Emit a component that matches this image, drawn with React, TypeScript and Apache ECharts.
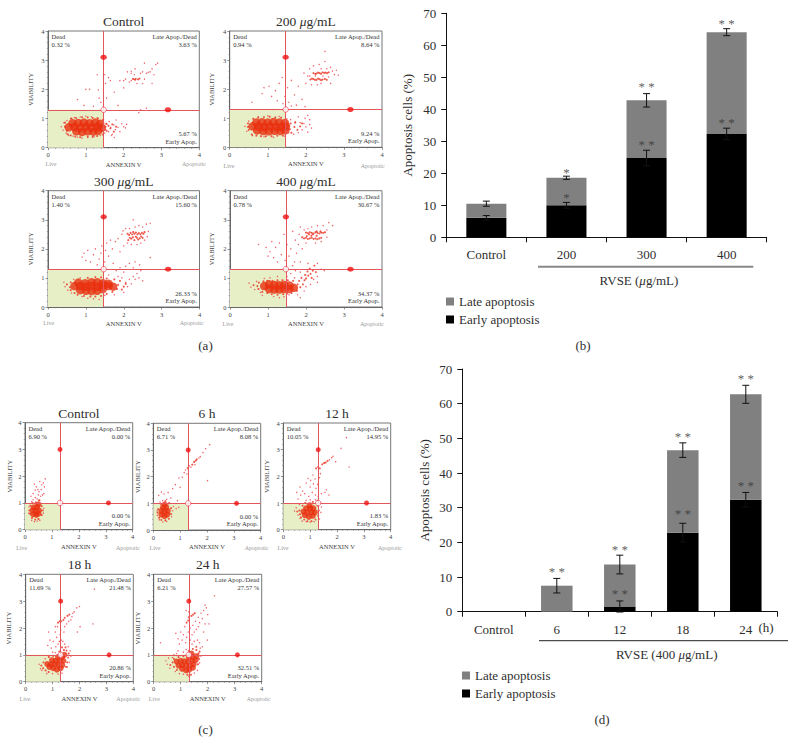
import React, { useEffect, useRef } from "react";
import * as echarts from "echarts";

const serif = "Liberation Serif";

// ---------- bar data ----------
const dosesB = ["Control", "200", "300", "400"];
const earlyB = [6.1, 10, 24.8, 32.3];
const lateB = [4.4, 8.6, 18, 31.8];
const errEarlyB = [0.7, 0.9, 2.4, 1.8];
const errTotalB = [0.8, 0.5, 2.1, 1.1];
const starsB: [number, number, string][] = [
  [1, 20.5, "*"], [1, 12.5, "*"], [2, 47.3, "* *"], [2, 29.2, "* *"], [3, 67, "* *"], [3, 36, "* *"],
];

const timesD = ["Control", "6", "12", "18", "24"];
const earlyD = [0, 0, 1.5, 22.8, 32.3];
const lateD = [0, 7.5, 12.1, 23.8, 30.4];
const errEarlyD = [0, 0, 1.6, 2.7, 2.1];
const errTotalD = [0, 2.1, 2.7, 2.1, 2.6];
const starsD: [number, number, string][] = [
  [1, 11.8, "* *"], [2, 18, "* *"], [2, 5.5, "* *"], [3, 50.7, "* *"], [3, 28.5, "* *"], [4, 67.4, "* *"], [4, 36.5, "* *"],
];

// ---------- flow cytometry clouds ----------
type P = number[];
const a1Dense: P[] = [[.75,.56],[.9,.54],[1.05,.56],[1.2,.55],[1.33,.58],[.55,.7],[.7,.71],[.85,.69],[1,.72],[1.15,.7],[1.3,.72],[1.42,.68],[.65,.84],[.8,.85],[.95,.86],[1.1,.84],[1.25,.86],[1.38,.82]];
const a1Mid: P[] = [[.45,.72],[.5,.58],[.45,.86],[.52,.46],[.6,.42],[.62,1],[.72,.38],[.74,1.02],[.85,.36],[.9,1.05],[1.05,.38],[1.05,1.04],[1.18,.37],[1.18,1.02],[1.3,.4],[1.32,1],[1.45,.45],[1.46,.96],[1.52,.72],[1.54,.82],[1.55,.58],[1.6,.75],[1.65,.66],[1.7,.8],[1.74,.55],[1.8,.72],[2.25,2.36],[2.32,2.36],[2.38,2.34],[2.42,2.37],[2.3,2.33]];
const a1Sparse: P[] = [[.35,.72],[.4,.6],[.42,.85],[.48,.5],[.5,.93],[.55,.42],[.6,1],[.66,.4],[.7,1.03],[.78,.36],[.85,1.05],[.9,.33],[1,1.08],[1.05,.35],[1.15,1.06],[1.22,.38],[1.3,1.02],[1.38,.42],[1.45,.95],[1.5,.5],[1.52,.62],[1.56,.8],[1.6,.55],[1.62,.9],[1.66,.7],[1.7,.46],[1.74,.78],[1.78,.62],[1.8,.95],[1.85,.7],[1.9,.55],[1.95,.82],[2,.72],[2.05,.68],[2.08,.8],[1.68,.42],[1.75,.35],[.78,1.65],[.95,1.45],[1,2],[1.1,2],[1.2,1.42],[1.3,2.5],[1.33,1.98],[1.35,1.7],[1.4,1.55],[1.5,2.5],[1.52,2.2],[1.55,1.7],[1.6,2.4],[1.65,2.3],[1.75,1.9],[1.85,1.45],[1.9,2.3],[2,2.05],[2.4,1.2],[2.6,1.35],[2.45,1.3],[2,2.3],[2.05,2.35],[2.1,2.6],[2.15,2.25],[2.2,2.55],[2.2,2.3],[2.25,2.35],[2.28,2.5],[2.3,2.7],[2.35,2.2],[2.45,2.55],[2.5,2.6],[2.5,2.2],[2.55,2.9],[2.6,2.55],[2.65,2.58],[2.7,2.6],[2.75,2.7],[2.8,2.5],[2.85,2.85],[2.9,2.9],[2.75,2.2],[2.2,2.62],[2.55,2.35]];

const a2Dense: P[] = [[.72,.58],[.88,.56],[1.03,.55],[1.18,.57],[1.33,.56],[1.46,.58],[.6,.72],[.75,.72],[.9,.7],[1.05,.72],[1.2,.71],[1.35,.7],[1.48,.72],[.7,.85],[.85,.86],[1,.85],[1.15,.87],[1.3,.85],[1.45,.84]];
const a2Mid: P[] = [[.48,.7],[.5,.6],[.48,.82],[.58,.44],[.7,.4],[.82,.38],[.95,.38],[1.1,.38],[1.25,.4],[1.4,.4],[.62,.98],[.75,1.02],[.9,1.04],[1.05,1.05],[1.2,1.03],[1.35,1.02],[1.55,.72],[1.58,.62],[1.6,.82],[1.62,.5],[1.7,.7],[1.72,.85],[1.78,.6],[1.85,.72],[1.9,.82],[2.2,2.55],[2.25,2.52],[2.28,2.54],[2.32,2.57],[2.36,2.55],[2.4,2.53],[2.44,2.58],[2.48,2.56],[2.52,2.57],[2.56,2.55],[2.6,2.58],[2.12,2.33],[2.16,2.36],[2.2,2.35],[2.24,2.32],[2.28,2.32],[2.32,2.36],[2.36,2.34],[2.4,2.31],[2.44,2.33],[2.5,2.35],[2.55,2.32]];
const a2Sparse: P[] = [[.4,.72],[.45,.55],[.5,.9],[.6,.4],[.62,.98],[.75,1.05],[.9,.36],[1,1.08],[1.15,.34],[1.3,1.06],[1.45,.38],[1.5,.98],[1.55,.5],[1.6,.95],[1.68,.45],[1.72,.88],[1.8,.5],[1.85,.85],[1.9,.6],[1.95,.82],[2,.7],[2.05,.52],[2.1,.78],[2.15,.66],[2.1,.95],[1.98,1],[1.8,1.05],[2.05,1.1],[.58,1.55],[.85,1.85],[.9,2.05],[1.03,2.1],[1.1,1.75],[1.2,1.95],[1.25,1.6],[1.3,2.2],[1.38,2.4],[1.4,1.5],[1.45,1.75],[1.52,2.05],[1.55,1.55],[1.62,2.3],[1.7,1.8],[1.75,1.45],[1.8,2.1],[1.9,1.65],[1.95,2.55],[2,2.2],[1.98,1.4],[2.05,2.45],[2.1,2.7],[2.15,2.15],[2.2,2.8],[2.3,2.15],[2.35,2.85],[2.4,2.7],[2.45,2.45],[2.5,3.3],[2.5,2.95],[2.55,2.7],[2.6,2.42],[2.65,2.75],[2.7,2.62],[2.75,2.5],[2.8,2.65],[2.85,2.48],[2.1,2.45],[2.25,2.45],[2.4,2.2],[2.65,2.2],[1.15,1.3],[1.62,1.42]];

const a3Dense: P[] = [[.85,.58],[1,.56],[1.15,.55],[1.3,.56],[1.45,.62],[.7,.72],[.85,.72],[1,.7],[1.15,.72],[1.3,.7],[1.45,.74],[1.6,.72],[1.72,.7],[.8,.84],[.98,.82],[1.15,.85],[1.3,.85],[1.45,.82],[1.6,.8]];
const a3Mid: P[] = [[.5,.78],[.58,.68],[.6,.85],[.6,.58],[.7,.48],[.78,.42],[.95,.38],[1.12,.36],[1.25,.36],[1.4,.38],[1.55,.45],[1.7,.52],[1.82,.62],[1.85,.76],[1.95,.6],[2,.7],[2.05,.8],[1.05,1],[1.25,1.03],[1.4,1.02],[1.55,.98],[1.75,.95],[1.9,.9],[2.1,2.52],[2.14,2.48],[2.18,2.55],[2.22,2.5],[2.25,2.58],[2.28,2.52],[2.32,2.56],[2.36,2.5],[2.4,2.54],[2.44,2.5],[2.48,2.55],[2.52,2.52],[2.55,2.58],[2.2,2.35],[2.24,2.4],[2.28,2.3],[2.32,2.42],[2.35,2.38],[2.38,2.32],[2.42,2.36],[2.46,2.42],[2.5,2.38],[2.12,2.3],[2.16,2.38]];
const a3Sparse: P[] = [[.42,.85],[.45,.7],[.52,.58],[.62,.48],[.68,.95],[.85,1],[.9,.36],[1.05,.3],[1.2,.28],[1.35,.26],[1.5,.4],[1.6,1.1],[1.75,.42],[1.85,1.05],[1.95,1],[2,.5],[2.05,.85],[2.1,.7],[2.15,.95],[2.2,.8],[2.25,1.05],[2.3,.95],[2.35,1.15],[2.4,1],[2.45,1.25],[2.5,.9],[2.42,1.45],[2.3,1.55],[2.25,1.35],[2.15,1.5],[2.05,1.4],[2,1.2],[1.9,1.35],[1.8,1.25],[2.7,1.7],[.9,1.72],[.95,1.85],[1,1.6],[1.05,1.95],[1.12,1.55],[1.2,1.8],[1.25,2],[1.3,1.45],[1.35,1.65],[1.42,2.1],[1.4,1.85],[1.5,1.55],[1.52,1.95],[1.55,2.2],[1.6,1.75],[1.65,2.3],[1.7,2],[1.72,1.5],[1.78,2.25],[1.85,2.35],[1.9,1.9],[1.95,2.5],[2,2.1],[2.05,2.7],[2.1,2.2],[2.15,2.7],[2.2,2.15],[2.25,3],[2.3,2.75],[2.35,2.15],[2.4,2.8],[2.45,2.2],[2.5,2.75],[2.55,2.3],[2.6,2.85],[2.65,2.6],[2.7,2.88],[2.62,2.42],[1.98,2.62]];

const a4Dense: P[] = [[.9,.72],[1.03,.62],[1.03,.78],[1.17,.6],[1.17,.76],[1.3,.6],[1.3,.75],[1.43,.62],[1.43,.76],[1.56,.62],[1.56,.74],[1.68,.66]];
const a4Mid: P[] = [[.62,.75],[.72,.72],[.75,.62],[.76,.84],[.85,.52],[.88,.88],[.98,.48],[.98,.9],[1.1,.44],[1.12,.9],[1.25,.42],[1.25,.92],[1.4,.44],[1.38,.92],[1.5,.46],[1.52,.92],[1.62,.48],[1.66,.9],[1.76,.56],[1.78,.78],[1.82,.9],[1.85,.68],[1.88,1],[1.92,.78],[1.96,.92],[1.98,1.1],[2,.98],[2.04,1.22],[2.06,1.08],[2.1,1.32],[2.12,1.14],[2.15,1],[2.18,1.25],[2.22,1.42],[2.26,1.2],[2,2.56],[2.05,2.54],[2.1,2.57],[2.15,2.55],[2.2,2.53],[2.25,2.57],[2.3,2.55],[2.35,2.53],[2.4,2.56],[2.45,2.55],[2.5,2.57],[2.08,2.5],[2.18,2.5],[2.28,2.6],[2.38,2.6],[1.9,2.4],[1.95,2.36],[2,2.38],[2.05,2.34],[2.1,2.36],[2.15,2.38],[2.2,2.34],[2.25,2.36],[2.3,2.33],[2.35,2.36],[2.4,2.38],[2.02,2.44],[2.14,2.45],[2.28,2.45]];
const a4Sparse: P[] = [[.5,.82],[.55,.68],[.65,.6],[.7,.88],[.8,.5],[.85,.4],[.9,.98],[1.05,1],[1.15,.36],[1.25,1.05],[1.3,.32],[1.42,.35],[1.5,1.05],[1.55,.42],[1.6,1.15],[1.7,1],[1.72,1.25],[1.78,.42],[1.85,1.2],[1.85,.32],[1.95,.55],[2,.7],[2.05,1.5],[2.12,.78],[2.2,.95],[2.3,1.5],[2.3,1.05],[2.4,1.3],[2.48,1.25],[2.3,.85],[.75,2.15],[.95,2.05],[1,1.75],[1.05,1.9],[1.1,2.25],[1.15,1.7],[1.2,2.05],[1.25,1.55],[1.3,2.2],[1.35,1.8],[1.42,2.5],[1.45,1.6],[1.5,2.15],[1.55,1.75],[1.6,2],[1.65,2.6],[1.7,1.55],[1.72,2.3],[1.75,1.85],[1.8,2.15],[1.82,2.5],[1.85,2.75],[1.9,2],[1.95,2.65],[2,2.2],[2.05,2.7],[2.15,2.75],[2.25,2.2],[2.3,2.8],[2.4,2.25],[2.45,2.8],[2.55,2.65],[2.6,2.9],[2.7,2.8],[2.55,2.4],[1.85,1.55],[1.65,1.42]];

const c1Dense: P[] = [[.3,.58],[.42,.55],[.5,.6],[.28,.72],[.4,.7],[.52,.72],[.32,.84],[.45,.85],[.5,.95]];
const c1Mid: P[] = [[.16,.72],[.18,.6],[.2,.9],[.26,.44],[.38,.38],[.5,.4],[.62,.55],[.66,.72],[.62,.88],[.52,1.1],[.4,1.02],[.28,1]];
const c1Sparse: P[] = [[.14,.62],[.15,.85],[.25,.35],[.35,.3],[.45,.32],[.55,.35],[.68,.62],[.7,.8],[.25,1.05],[.3,1.12],[.38,1.2],[.45,1.15],[.5,1.3],[.55,1.1],[.3,1.35],[.38,1.48],[.42,1.6],[.48,1.5],[.52,1.42],[.58,1.25],[.6,1.5],[.62,1.68],[.68,1.75],[.72,1.6],[.75,1.9],[.65,1.3],[.22,1.25],[.35,1.7],[.55,1.8],[.7,1.35]];

const c2Dense: P[] = [[.3,.58],[.42,.52],[.52,.58],[.3,.72],[.42,.7],[.54,.72],[.36,.85],[.48,.86],[.42,.95]];
const c2Mid: P[] = [[.16,.65],[.18,.78],[.22,.46],[.3,.38],[.45,.36],[.58,.42],[.66,.6],[.66,.82],[.58,1],[.28,.98],[.45,1.08],[1.45,2.45],[1.52,2.55],[1.58,2.6],[1.62,2.65],[1.28,2.32]];
const c2Sparse: P[] = [[.14,.72],[.15,.55],[.22,.38],[.35,.3],[.5,.32],[.68,.5],[.72,.72],[.75,.88],[.85,.8],[.95,.85],[.9,1.1],[.25,1.05],[.35,1.1],[.2,1.3],[.3,1.42],[.4,1.35],[.55,1.4],[.5,1.15],[.65,1.2],[.72,1.55],[.82,1.7],[.95,1.95],[1,1.6],[1.08,1.98],[1.15,2.15],[1.2,2.25],[1.25,2.1],[1.35,2.4],[1.4,2.35],[1.55,2.45],[1.7,2.7],[1.75,2.75],[1.85,2.9],[1.95,3.05],[2.1,3.2],[2.02,1.85],[.6,1.02]];

const c3Dense: P[] = [[.8,.55],[.95,.48],[1.1,.52],[.75,.68],[.9,.64],[1.05,.66],[1.18,.65],[.85,.8],[1,.8],[1.12,.8],[.98,.92]];
const c3Mid: P[] = [[.52,.68],[.6,.72],[.62,.58],[.66,.46],[.78,.38],[.9,.32],[1.05,.32],[1.2,.38],[1.3,.52],[1.32,.72],[1.28,.9],[.72,.9],[.82,1],[1.1,1.04],[1.28,1.08],[1.22,2.3],[1.3,2.35],[1.36,2.3],[1.45,2.45],[1.52,2.5],[1.58,2.52],[1.65,2.58]];
const c3Sparse: P[] = [[.42,.7],[.48,.82],[.55,.55],[.6,.95],[.62,.42],[.7,.32],[.85,.3],[1,.28],[1.15,.3],[1.35,.4],[1.4,.65],[1.42,.85],[1.38,1],[1.2,1.12],[1,1.12],[.85,1.1],[.95,1.25],[.55,1.15],[.5,1.4],[.62,1.6],[.72,1.45],[.8,1.35],[.85,1.75],[.92,1.92],[1,1.6],[1.02,1.85],[1.08,1.4],[1.12,1.72],[1.18,1.9],[1.2,1.3],[1.22,1.55],[1.28,1.7],[1.3,1.25],[1.35,1.95],[1.38,2.1],[1.42,1.35],[1.55,1.4],[1.6,1.5],[1.7,1.3],[1.1,2.05],[1.72,2.62],[1.8,2.7],[1.85,2.75],[1.95,2.55],[2.15,3.05],[2.35,3.45],[2.45,2.35],[.65,1.3]];

const c4Dense: P[] = [[.88,.55],[1.02,.5],[1.16,.45],[1.3,.5],[.8,.66],[.94,.65],[1.08,.65],[1.22,.62],[1.36,.62],[.98,.8],[1.12,.78],[1.26,.78],[1.4,.78],[1.2,.92],[1.35,.92],[1.44,1]];
const c4Mid: P[] = [[.58,.6],[.65,.5],[.66,.72],[.74,.42],[.86,.92],[1.02,.96],[.85,.36],[1.5,.55],[1.54,.72],[1.58,.9],[1.6,1.05],[1.52,1.16],[1.42,1.18],[1.25,1.12],[1.35,1.28],[1.48,1.28],[1.2,2.2],[1.26,2.25],[1.32,2.25],[1.4,2.3],[1.45,2.38],[1.55,2.45],[1.62,2.5]];
const c4Sparse: P[] = [[.5,.65],[.55,.48],[.6,.42],[.72,.85],[.78,.3],[1,.3],[1.2,.28],[1.35,.32],[1.55,.55],[1.62,.72],[1.68,.95],[1.65,1.15],[1.58,1.3],[1.1,1.08],[1,1.1],[.95,1.25],[1.12,1.3],[1.2,1.4],[.82,1.35],[.9,1.55],[1.02,1.5],[.85,1.85],[1.1,1.85],[1.15,1.65],[1.25,1.5],[1.28,1.75],[1.32,1.55],[1.3,1.92],[1.38,1.5],[1.42,1.85],[1.45,1.4],[1.45,2.05],[1.52,2.15],[1.6,2.25],[1.68,2.3],[1.72,2.42],[1.75,2.55],[1.8,2.6],[1.9,2.75],[2,2.8],[2.02,2.05],[1.92,1.85],[1.1,2.05],[1.18,2.05],[2.55,3.45],[2.5,2.15]];

const c5Dense: P[] = [[1.05,.48],[1.2,.42],[1.32,.45],[1.45,.52],[.92,.6],[1.06,.62],[1.2,.6],[1.34,.6],[1.48,.65],[.85,.75],[1,.78],[1.14,.76],[1.28,.76],[1.42,.78],[1.55,.8],[1.3,.92],[1.45,.92],[1.58,.95],[1.4,1.05]];
const c5Mid: P[] = [[.62,.62],[.7,.72],[.75,.55],[.75,.85],[.86,.44],[.92,.92],[1.1,.94],[1.25,.26],[1.38,.26],[1.64,.65],[1.68,.85],[1.66,1.05],[1.58,1.18],[1.7,1.12],[1.45,1.22],[1.3,1.15],[1.58,1.3],[1.4,2.45],[1.46,2.5],[1.52,2.55],[1.28,2.28],[1.22,2.2],[1.3,2.4]];
const c5Sparse: P[] = [[.45,.78],[.5,.65],[.55,.88],[.6,.5],[.7,.9],[.75,1],[.8,.38],[.95,.3],[1.1,.28],[1.3,.2],[1.5,.32],[1.62,.42],[1.7,.7],[1.75,.95],[1.72,1.25],[1.7,1.45],[1.8,1.3],[1.62,1.55],[1.5,1.5],[1.42,1.4],[1.2,1.2],[1.1,1.1],[.9,1.15],[.85,1.05],[.25,1.45],[.82,1.8],[.9,1.6],[.95,1.4],[1,1.85],[1.05,1.55],[1.1,1.75],[1.15,2.05],[1.18,1.45],[1.22,1.65],[1.28,1.85],[1.35,2],[1.35,1.55],[1.42,1.75],[1.45,2.1],[1.5,1.85],[1.55,2.25],[1.58,1.95],[1.65,2.05],[1.65,2.4],[1.7,2.2],[1.75,2.55],[1.8,2.35],[1.85,1.85],[1.85,2.65],[1.9,2.15],[1.95,2.75],[2,2.5],[2.05,2.15],[1.9,2.85],[1.98,1.55],[2.25,3.2],[1.2,2.65],[1.3,2.6]];

// ---------- panel contents ----------
const panelA = { cross: [1.47, 1.3], handles: [[1.47, 3.1], [3.17, 1.3]] };
const panelC = { cross: [1.3, 1.0], handles: [[1.3, 3.0], [3.1, 1.0]] };

const panels = [
  { title: ["Control"], dead: "0.32 %", late: "3.63 %", early: "5.67 %", live: "90.37 %", dense: a1Dense, mid: a1Mid, sparse: a1Sparse, ...panelA,
    x0: 48, x1: 199.3, y0: 31, y1: 147.7, vGap: 14, liveX: 51, apopX: 194, footY: 163.5, small: false },
  { title: ["200 ", "g/mL"], dead: "0.94 %", late: "8.64 %", early: "9.24 %", live: "81.17 %", dense: a2Dense, mid: a2Mid, sparse: a2Sparse, ...panelA,
    x0: 229.7, x1: 382, y0: 31, y1: 147.3, vGap: 15, liveX: 229, apopX: 372.7, footY: 166, small: false },
  { title: ["300 ", "g/mL"], dead: "1.40 %", late: "15.60 %", early: "26.33 %", live: "56.67 %", dense: a3Dense, mid: a3Mid, sparse: a3Sparse, ...panelA,
    x0: 48, x1: 199.5, y0: 190.7, y1: 307, vGap: 14, liveX: 48.7, apopX: 191.7, footY: 323, small: false },
  { title: ["400 ", "g/mL"], dead: "0.78 %", late: "30.67 %", early: "34.37 %", live: "34.19 %", dense: a4Dense, mid: a4Mid, sparse: a4Sparse, ...panelA,
    x0: 230, x1: 382, y0: 190.7, y1: 307, vGap: 15, liveX: 228, apopX: 372, footY: 324, small: false },
  { title: ["Control"], dead: "6.90 %", late: "0.00 %", early: "0.00 %", live: "93.10 %", dense: c1Dense, mid: c1Mid, sparse: c1Sparse, ...panelC,
    x0: 25, x1: 132.7, y0: 422.7, y1: 529.7, vGap: 12, liveX: 21.7, apopX: 128, footY: 547.5, small: true },
  { title: ["6 h"], dead: "6.71 %", late: "8.08 %", early: "0.00 %", live: "85.21 %", dense: c2Dense, mid: c2Mid, sparse: c2Sparse, ...panelC,
    x0: 153.3, x1: 260.7, y0: 423.3, y1: 530, vGap: 12, liveX: 155, apopX: 256.7, footY: 547.5, small: true },
  { title: ["12 h"], dead: "10.05 %", late: "14.95 %", early: "1.83 %", live: "73.17 %", dense: c3Dense, mid: c3Mid, sparse: c3Sparse, ...panelC,
    x0: 283.3, x1: 390.7, y0: 423, y1: 529.7, vGap: 13, liveX: 283, apopX: 390, footY: 547.5, small: true },
  { title: ["18 h"], dead: "11.69 %", late: "21.48 %", early: "20.86 %", live: "45.97 %", dense: c4Dense, mid: c4Mid, sparse: c4Sparse, ...panelC,
    x0: 25.7, x1: 133.3, y0: 574.3, y1: 681.7, vGap: 14, liveX: 25, apopX: 128.3, footY: 698.5, small: true },
  { title: ["24 h"], dead: "6.21 %", late: "27.57 %", early: "32.51 %", live: "33.71 %", dense: c5Dense, mid: c5Mid, sparse: c5Sparse, ...panelC,
    x0: 153.7, x1: 261.7, y0: 574.3, y1: 681.7, vGap: 13, liveX: 154.3, apopX: 258.7, footY: 698.5, small: true },
];

const RED = "#e5565c";
const CLOUD = "#e8300f";
const DARK = "#2f2f2f";

function txt(x: number, y: number, text: string, fontSize: number, fill: string, align = "left", rich?: any) {
  return {
    type: "text", x, y, silent: true,
    style: { text, fontSize, fontFamily: serif, fill, align, verticalAlign: "middle", rich },
  };
}

function muText(x: number, y: number, before: string, after: string, size: number) {
  const base = { fontSize: size, fontFamily: serif, fill: DARK };
  return txt(x, y, `{a|${before}}{i|\u03bc}{a|${after}}`, size, DARK, "center", {
    a: base,
    i: { ...base, fontStyle: "italic" },
  });
}

function buildOption() {
  const grid: any[] = [];
  const xAxis: any[] = [];
  const yAxis: any[] = [];
  const series: any[] = [];
  const graphic: any[] = [];

  panels.forEach((p, i) => {
    grid.push({ left: p.x0, top: p.y0, width: p.x1 - p.x0, height: p.y1 - p.y0, show: true, borderColor: "#777", borderWidth: 1, backgroundColor: "transparent" });
    const axisCommon = {
      gridIndex: i, type: "value", min: 0, max: 4, interval: 1,
      splitLine: { show: false },
      axisLine: { show: true, onZero: false, lineStyle: { color: "#666", width: 1 } },
      axisTick: { show: true, length: 2.5, lineStyle: { color: "#666", width: 0.7 } },
      minorTick: { show: true, splitNumber: 5, length: 1.3, lineStyle: { color: "#777", width: 0.5 } },
      axisLabel: { fontSize: 6.5, fontFamily: serif, color: "#444", margin: 3.5 },
      nameLocation: "middle",
      nameTextStyle: { fontSize: 6.5, fontFamily: serif, color: "#444" },
    };
    xAxis.push({ ...axisCommon, name: "ANNEXIN V", nameGap: 13 });
    yAxis.push({ ...axisCommon, name: "VIABILITY", nameGap: p.vGap, nameRotate: 90 });

    const ax = { xAxisIndex: i, yAxisIndex: i };
    const [cx, cy] = p.cross;
    series.push({
      type: "scatter", ...ax, silent: true, z: 6, symbolSize: p.small ? [5, 5] : [6.5, 5],
      itemStyle: { color: "#f01010" }, data: p.handles,
      markArea: { silent: true, z: 1, itemStyle: { color: "#e7efc6" }, data: [[{ coord: [0, 0] }, { coord: [cx, cy] }]] },
    });
    series.push({ type: "scatter", ...ax, silent: true, z: 3, symbolSize: 1.4, itemStyle: { color: "#ee3a45" }, data: p.sparse });
    series.push({ type: "scatter", ...ax, silent: true, z: 3, symbolSize: 2.1, itemStyle: { color: "#ea3020" }, data: p.mid });
    series.push({ type: "scatter", ...ax, silent: true, z: 3, symbolSize: p.small ? 6 : 8.5, itemStyle: { color: CLOUD }, data: p.dense });
    series.push({
      type: "scatter", ...ax, silent: true, z: 5, symbolSize: 5.5,
      itemStyle: { color: "#fff", borderColor: "#e83040", borderWidth: 0.8 }, data: [p.cross],
      markLine: {
        silent: true, symbol: "none", z: 4, label: { show: false }, animation: false,
        lineStyle: { color: RED, width: 1, type: "solid" },
        data: [{ xAxis: cx }, { yAxis: cy }],
      },
    });

    const mid = (p.x0 + p.x1) / 2;
    const titleY = p.y0 - 9.5;
    if (p.title.length === 2) graphic.push(muText(mid, titleY, p.title[0], p.title[1], 13.5));
    else graphic.push(txt(mid, titleY, p.title[0], 13.5, DARK, "center"));
    graphic.push(txt(p.x0 + 3.5, p.y0 + 5.5, "Dead", 6.5, "#333"));
    graphic.push(txt(p.x0 + 3.5, p.y0 + 13.5, p.dead, 6.5, "#333"));
    graphic.push(txt(p.x1 - 2.5, p.y0 + 5.5, "Late Apop./Dead", 6.5, "#333", "right"));
    graphic.push(txt(p.x1 - 2.5, p.y0 + 13.5, p.late, 6.5, "#333", "right"));
    graphic.push(txt(p.x1 - 2.5, p.y1 - 14, p.early, 6.5, "#333", "right"));
    graphic.push(txt(p.x1 - 2.5, p.y1 - 6.5, "Early Apop.", 6.5, "#333", "right"));
    graphic.push(txt(p.x0 + 3, p.y1 - 14, p.live, 6.5, "#333"));
    graphic.push(txt(p.x0 + 3, p.y1 - 6.5, "Live", 6.5, "#333"));
    graphic.push(txt(p.liveX, p.footY, "Live", 6, "#999", "center"));
    graphic.push(txt(p.apopX, p.footY, "Apoptotic", 6, "#999", "center"));
  });

  const bars = [
    { cats: dosesB, early: earlyB, late: lateB, errE: errEarlyB, errT: errTotalB, stars: starsB, left: 446.3, right: 766.7, top: 13.3, bottom: 237.3, stack: "b", labelMargin: 11, nameGap: 32 },
    { cats: timesD, early: earlyD, late: lateD, errE: errEarlyD, errT: errTotalD, stars: starsD, left: 462.3, right: 777.3, top: 369, bottom: 611.7, stack: "d", labelMargin: 11, nameGap: 31 },
  ];
  bars.forEach((b) => {
    const idx = grid.length;
    grid.push({ left: b.left, top: b.top, width: b.right - b.left, height: b.bottom - b.top });
    xAxis.push({
      gridIndex: idx, type: "category", data: b.cats,
      axisLine: { lineStyle: { color: "#111", width: 1 } },
      axisTick: { show: true, alignWithLabel: false, length: 5, lineStyle: { color: "#111" } },
      axisLabel: { fontSize: 13, fontFamily: serif, color: DARK, margin: b.labelMargin },
    });
    yAxis.push({
      gridIndex: idx, type: "value", min: 0, max: 70, interval: 10,
      splitLine: { show: false },
      axisLine: { show: true, lineStyle: { color: "#111", width: 1 } },
      axisTick: { show: true, length: 5, lineStyle: { color: "#111" } },
      axisLabel: { fontSize: 13, fontFamily: serif, color: DARK, margin: 10 },
      name: "Apoptosis cells (%)", nameLocation: "middle", nameGap: b.nameGap, nameRotate: 90,
      nameTextStyle: { fontSize: 13, fontFamily: serif, color: DARK },
    });
    const ax = { xAxisIndex: idx, yAxisIndex: idx };
    series.push({ name: "Early apoptosis", type: "bar", ...ax, stack: b.stack, barWidth: "50%", silent: true, itemStyle: { color: "#000" }, data: b.early });
    series.push({ name: "Late apoptosis", type: "bar", ...ax, stack: b.stack, barWidth: "50%", silent: true, itemStyle: { color: "#808080" }, data: b.late });

    const errData: number[][] = [];
    b.cats.forEach((_, k) => {
      if (b.errE[k] > 0) errData.push([k, b.early[k], b.errE[k]]);
      if (b.errT[k] > 0) errData.push([k, b.early[k] + b.late[k], b.errT[k]]);
    });
    series.push({
      type: "custom", ...ax, silent: true, z: 6, data: errData,
      encode: { x: 0, y: 1 },
      renderItem: (_: any, api: any) => {
        const k = api.value(0), v = api.value(1), e = api.value(2);
        const hi = api.coord([k, v + e]);
        const lo = api.coord([k, v - e]);
        const s = { stroke: "#111", lineWidth: 1 };
        const cap = 3.5;
        return {
          type: "group",
          children: [
            { type: "line", shape: { x1: hi[0], y1: hi[1], x2: lo[0], y2: lo[1] }, style: s },
            { type: "line", shape: { x1: hi[0] - cap, y1: hi[1], x2: hi[0] + cap, y2: hi[1] }, style: s },
            { type: "line", shape: { x1: lo[0] - cap, y1: lo[1], x2: lo[0] + cap, y2: lo[1] }, style: s },
          ],
        };
      },
    });
    series.push({
      type: "scatter", ...ax, silent: true, z: 7, symbol: "circle", symbolSize: 0, itemStyle: { color: "#333" }, data: b.stars,
      label: { show: true, position: "inside", offset: [0, 0.5], formatter: (p: any) => p.value[2], fontSize: 13, fontFamily: serif, color: "#333", textBorderWidth: 0, textBorderColor: "transparent" },
    });
  });

  graphic.push({ type: "line", silent: true, shape: { x1: 538, y1: 266.7, x2: 753.3, y2: 266.7 }, style: { stroke: "#888", lineWidth: 2 } });
  graphic.push(muText(639, 280, "RVSE (", "g/mL)", 13));
  graphic.push(txt(583, 345.7, "(b)", 13, DARK, "center"));
  graphic.push({ type: "line", silent: true, shape: { x1: 539, y1: 640.7, x2: 788, y2: 640.7 }, style: { stroke: "#222", lineWidth: 1 } });
  graphic.push(muText(666.7, 654.7, "RVSE (400 ", "g/mL)", 13));
  graphic.push(txt(602, 719.7, "(d)", 13, DARK, "center"));
  graphic.push(txt(766, 627, "(h)", 13, DARK, "center"));
  graphic.push(txt(205.5, 345.3, "(a)", 13, DARK, "center"));
  graphic.push(txt(205.5, 729, "(c)", 13, DARK, "center"));

  const legendBase = {
    orient: "vertical", padding: 0, itemWidth: 8, itemHeight: 8, itemGap: 5, icon: "rect", selectedMode: false,
    data: ["Late apoptosis", "Early apoptosis"],
    textStyle: { fontSize: 13, fontFamily: serif, color: DARK },
  };
  const legend = [
    { ...legendBase, left: 446, top: 295 },
    { ...legendBase, left: 462, top: 669 },
  ];

  return { animation: false, backgroundColor: "#fff", textStyle: { fontFamily: serif }, grid, xAxis, yAxis, series, graphic, legend };
}

export default function App() {
  const ref = useRef<HTMLDivElement>(null);
  useEffect(() => {
    const chart = echarts.init(ref.current!, undefined, { renderer: "svg" });
    chart.setOption(buildOption() as any);
    return () => chart.dispose();
  }, []);
  return <div ref={ref} style={{ position: "absolute", left: 0, top: 0, width: 797, height: 746 }} />;
}
